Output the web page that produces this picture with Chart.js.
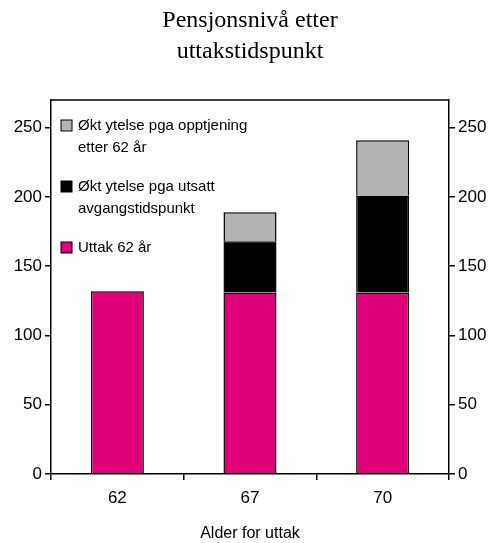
<!DOCTYPE html>
<html>
<head>
<meta charset="utf-8">
<script src="https://cdn.jsdelivr.net/npm/chart.js@4"></script>
<style>
  html, body { margin: 0; padding: 0; background: #fff; }
  #wrap { width: 500px; height: 543px; }
</style>
</head>
<body>
<div id="wrap"><canvas id="chart" width="500" height="543"></canvas></div>
<script>
// data
const ages = ["62", "67", "70"];
const uttak62 = [132, 131, 131];
const utsatt = [0, 37, 70];
const opptjening = [0, 21, 40];

const titleLines = ["Pensjonsnivå etter", "uttakstidspunkt"];
const legendItems = [
    { color: "#b3b3b3", lines: ["Økt ytelse pga opptjening", "etter 62 år"] },
    { color: "#000000", lines: ["Økt ytelse pga utsatt", "avgangstidspunkt"] },
    { color: "#e0007a", lines: ["Uttak 62 år"] }
];

const FONT = "'Liberation Sans', Arial, sans-serif";

// title, top frame line and in-plot legend
const decor = {
    id: "decor",
    afterDraw(chart) {
        const ctx = chart.ctx;
        const a = chart.chartArea;
        ctx.save();
        ctx.fillStyle = "#000";
        ctx.font = "24px 'Liberation Serif', 'Times New Roman', serif";
        ctx.textAlign = "center";
        ctx.textBaseline = "alphabetic";
        ctx.fillText(titleLines[0], 250, 27);
        ctx.fillText(titleLines[1], 250, 58);

        ctx.strokeStyle = "#000";
        ctx.lineWidth = 1.5;
        ctx.beginPath();
        ctx.moveTo(a.left, a.top);
        ctx.lineTo(a.right, a.top);
        ctx.stroke();

        ctx.font = "15px " + FONT;
        ctx.textAlign = "left";
        ctx.textBaseline = "middle";
        const starts = [126, 187, 248];
        legendItems.forEach((item, i) => {
            const y = starts[i];
            ctx.fillStyle = item.color;
            ctx.fillRect(a.left + 10, y - 6, 11, 11);
            ctx.lineWidth = 1;
            ctx.strokeRect(a.left + 10, y - 6, 11, 11);
            ctx.fillStyle = "#000";
            item.lines.forEach((t, j) => ctx.fillText(t, a.left + 27, y + j * 22));
        });
        ctx.restore();
    }
};

const yTicks = {
    color: "#000",
    font: { family: FONT, size: 17 },
    stepSize: 50,
    padding: 3
};

new Chart(document.getElementById("chart"), {
    type: "bar",
    data: {
        labels: ages,
        datasets: [
            { label: "Uttak 62 år", data: uttak62, backgroundColor: "#e0007a" },
            { label: "Økt ytelse pga utsatt avgangstidspunkt", data: utsatt, backgroundColor: "#000000" },
            { label: "Økt ytelse pga opptjening etter 62 år", data: opptjening, backgroundColor: "#b3b3b3" }
        ].map(d => Object.assign(d, {
            borderColor: "#000",
            borderWidth: 1.5,
            borderSkipped: "bottom",
            categoryPercentage: 1,
            barPercentage: 0.4
        }))
    },
    options: {
        responsive: false,
        animation: false,
        devicePixelRatio: 1,
        layout: { padding: { top: 100, left: 0, right: 0, bottom: 0 } },
        plugins: { legend: { display: false }, tooltip: { enabled: false } },
        scales: {
            x: {
                stacked: true,
                offset: true,
                grid: { display: true, drawOnChartArea: false, offset: true, tickLength: 6, color: "#000", lineWidth: 1.5 },
                border: { color: "#000", width: 1.5 },
                ticks: { color: "#000", font: { family: FONT, size: 17 }, padding: 8 },
                title: { display: true, text: "Alder for uttak", color: "#000", font: { family: FONT, size: 16 }, padding: { top: 4, bottom: 0 } },
                afterFit(s) { s.height = 69; }
            },
            y: {
                stacked: true,
                min: 0,
                max: 270,
                position: "left",
                grid: { drawOnChartArea: false, tickLength: 6, color: "#000", lineWidth: 1.5 },
                border: { color: "#000", width: 1.5 },
                ticks: yTicks,
                afterBuildTicks(s) { s.ticks = s.ticks.filter(t => t.value % 50 === 0); },
                afterFit(s) { s.width = 51; }
            },
            y2: {
                min: 0,
                max: 270,
                position: "right",
                grid: { drawOnChartArea: false, tickLength: 6, color: "#000", lineWidth: 1.5 },
                border: { color: "#000", width: 1.5 },
                ticks: yTicks,
                afterBuildTicks(s) { s.ticks = s.ticks.filter(t => t.value % 50 === 0); },
                afterFit(s) { s.width = 51; }
            }
        }
    },
    plugins: [decor]
});
</script>
</body>
</html>
